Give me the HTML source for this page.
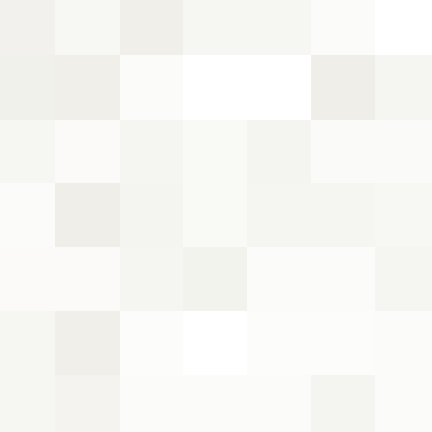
<!DOCTYPE html>
<html><head><meta charset="utf-8"><style>
html,body{margin:0;padding:0;background:#fff;}
svg{display:block;}
</style></head><body>
<svg id="chart" width="432" height="432" viewBox="0 0 432 432"></svg>
<script>
const rowLabels = ["r0","r1","r2","r3","r4","r5","r6"];
const colLabels = ["c0","c1","c2","c3","c4","c5","c6"];
const values = [
  [0.20,0.50,0.05,0.45,0.45,0.75,1.00],
  [0.15,0.08,0.75,1.00,1.00,0.02,0.40],
  [0.45,0.72,0.40,0.62,0.33,0.68,0.68],
  [0.75,0.02,0.33,0.62,0.40,0.40,0.50],
  [0.72,0.72,0.40,0.27,0.75,0.75,0.40],
  [0.45,0.05,0.80,1.00,0.80,0.80,0.75],
  [0.45,0.30,0.75,0.75,0.75,0.33,0.75]
];
const edges = [0,55,120,183,247,311,375,432];
function xPos(i){return edges[i];}
function yPos(i){return edges[i];}
function color(v){
  const lo=[0xef,0xee,0xe8], hi=[0xff,0xff,0xff];
  const c=lo.map((l,k)=>Math.round(l+(hi[k]-l)*v));
  return `rgb(${c[0]},${c[1]},${c[2]})`;
}
const svg=document.getElementById('chart');
const NS='http://www.w3.org/2000/svg';
values.forEach((row,r)=>{
  row.forEach((v,c)=>{
    const rect=document.createElementNS(NS,'rect');
    rect.setAttribute('x',xPos(c));
    rect.setAttribute('y',yPos(r));
    rect.setAttribute('width',xPos(c+1)-xPos(c));
    rect.setAttribute('height',yPos(r+1)-yPos(r));
    rect.setAttribute('fill',color(v));
    
    
    svg.appendChild(rect);
  });
});
</script>
</body></html>
